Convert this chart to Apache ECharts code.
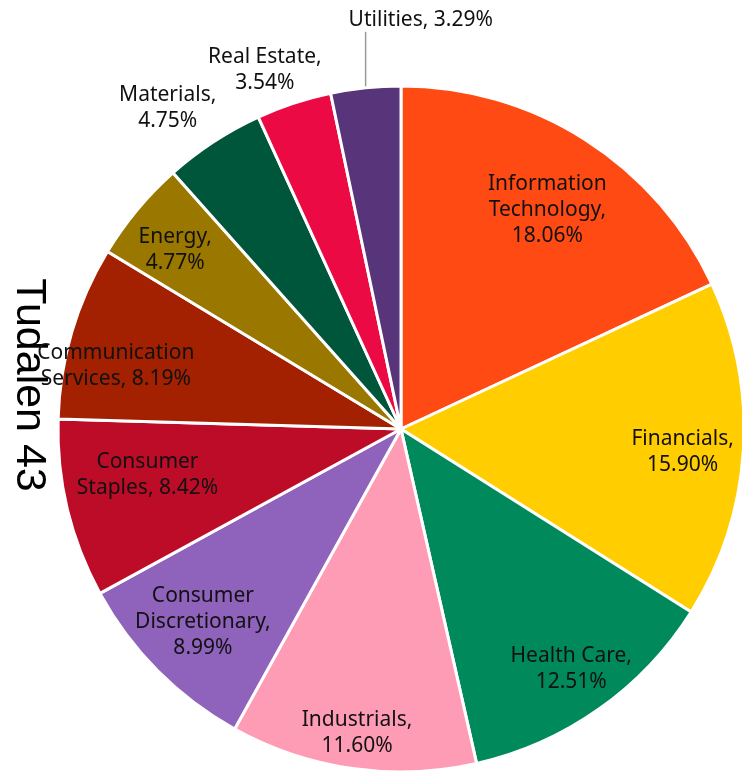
<!DOCTYPE html>
<html>
<head>
<meta charset="utf-8">
<script src="https://cdn.jsdelivr.net/npm/echarts@6/dist/echarts.min.js"></script>
<style>
  html, body { margin: 0; padding: 0; background: #fff; }
  #chart { width: 742px; height: 772px; }
</style>
</head>
<body>
<div id="chart"></div>
<script>
// Sector weights (%), drawn clockwise from 12 o'clock
const categories = [
  'Information Technology', 'Financials', 'Health Care', 'Industrials',
  'Consumer Discretionary', 'Consumer Staples', 'Communication Services',
  'Energy', 'Materials', 'Real Estate', 'Utilities'
];
const weights = [18.06, 15.90, 12.51, 11.60, 8.99, 8.42, 8.19, 4.77, 4.75, 3.54, 3.29];

// How each category name is broken over lines in its label
const labelNames = [
  'Information\nTechnology', 'Financials', 'Health Care', 'Industrials',
  'Consumer\nDiscretionary', 'Consumer\nStaples', 'Communication\nServices',
  'Energy', 'Materials', 'Real Estate', 'Utilities'
];
const valueOnOwnLine = [true, true, true, true, true, false, false, true, true, true, false];

const pageTitle = 'Tudalen 43';

// ---- styling ----
const sliceColors = [
  '#FF4A14', '#FFCD00', '#008A5B', '#FF9CB5', '#8F62BC', '#BC0C28',
  '#A32100', '#9A7800', '#00563A', '#EB0A44', '#58357A'
];
// radial placement of each label, as a fraction of the pie radius,
// plus a small pixel nudge [dx, dy] to settle it in its slice
const labelRadius = [0.77, 0.82, 0.85, 0.89, 0.80, 0.75, 0.84, 0.845, 1.16, 1.12, 1.0];
const labelNudge = [
  [2, 8], [-4, 5], [-1, -2], [0, -3], [0, -4], [1, -15],
  [-4, 20], [1, 10], [-12, 18], [-14, 12], [0, 0]
];

const CX = 401, CY = 429, R = 343;

const chart = echarts.init(document.getElementById('chart'), null, { renderer: 'canvas' });

const seriesData = categories.map((name, i) => ({
  name: name,
  value: weights[i],
  itemStyle: { color: sliceColors[i] },
  label: i === categories.length - 1
    ? { position: 'outside' }
    : { position: 'inside' },
  labelLine: { show: i === categories.length - 1 }
}));

chart.setOption({
  animation: false,
  graphic: [{
    type: 'text',
    x: 29,
    y: 385,
    rotation: -Math.PI / 2,
    style: {
      text: pageTitle,
      font: '43px "Liberation Sans", Arial, sans-serif',
      fill: '#000',
      align: 'center',
      verticalAlign: 'middle'
    }
  }],
  series: [{
    type: 'pie',
    center: [CX, CY],
    radius: [0, R],
    startAngle: 90,
    clockwise: true,
    avoidLabelOverlap: false,
    silent: true,
    itemStyle: { borderColor: '#fff', borderWidth: 3 },
    label: {
      show: true,
      color: '#111',
      fontFamily: '"Noto Sans", sans-serif',
      fontSize: 21,
      lineHeight: 26,
      align: 'center',
      textBorderWidth: 0,
      formatter: p => labelNames[p.dataIndex] + ',' +
        (valueOnOwnLine[p.dataIndex] ? '\n' : ' ') + p.value.toFixed(2) + '%'
    },
    labelLine: {
      show: true,
      length: 40,
      length2: 0,
      lineStyle: { color: '#999', width: 1.5 }
    },
    labelLayout: function (p) {
      const i = p.dataIndex;
      const rect = p.labelRect;
      if (i === categories.length - 1) {
        const p0 = p.labelLinePoints ? p.labelLinePoints[0] : [CX, CY - R];
        const top = [p0[0], p0[1] - 56];
        return {
          x: p0[0] - 17,
          y: p0[1] - 68,
          align: 'left',
          verticalAlign: 'middle',
          labelLinePoints: [p0, top, top]
        };
      }
      // inside labels sit at half the radius; push them out along the same ray
      const lx = rect.x + rect.width / 2;
      const ly = rect.y + rect.height / 2;
      const s = labelRadius[i] / 0.5;
      return {
        x: CX + (lx - CX) * s + labelNudge[i][0],
        y: CY + (ly - CY) * s + labelNudge[i][1],
        align: 'center',
        verticalAlign: 'middle'
      };
    },
    data: seriesData
  }]
});
</script>
</body>
</html>
